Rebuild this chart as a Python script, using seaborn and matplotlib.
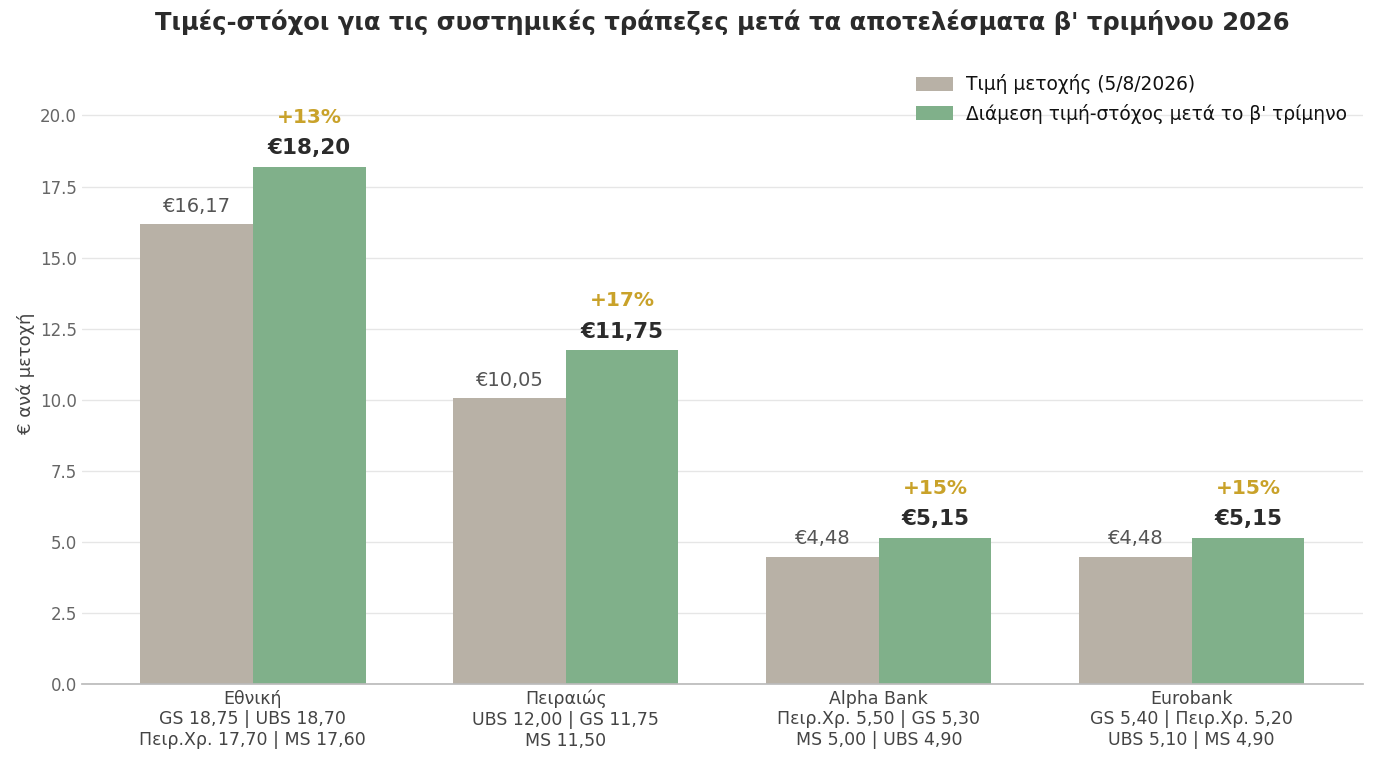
import numpy as np
import pandas as pd
import seaborn as sns
import matplotlib.pyplot as plt

banks = ["Εθνική", "Πειραιώς", "Alpha Bank", "Eurobank"]
brokers = ["GS 18,75 | UBS 18,70\nΠειρ.Χρ. 17,70 | MS 17,60",
           "UBS 12,00 | GS 11,75\nMS 11,50",
           "Πειρ.Χρ. 5,50 | GS 5,30\nMS 5,00 | UBS 4,90",
           "GS 5,40 | Πειρ.Χρ. 5,20\nUBS 5,10 | MS 4,90"]
price = [16.17, 10.05, 4.48, 4.48]
target = [18.20, 11.75, 5.15, 5.15]
upside = ["+13%", "+17%", "+15%", "+15%"]

lbl_price = "Τιμή μετοχής (5/8/2026)"
lbl_target = "Διάμεση τιμή-στόχος μετά το β' τρίμηνο"

df = pd.DataFrame({
    "bank": banks * 2,
    "value": price + target,
    "series": [lbl_price] * 4 + [lbl_target] * 4,
})

sns.set_theme(style="whitegrid", font="DejaVu Sans")
plt.rcParams['font.family'] = 'sans-serif'
plt.rcParams['font.sans-serif'] = ['DejaVu Sans']

fig = plt.figure(figsize=(13.75, 7.61), dpi=100)
ax = fig.add_axes([0.0596, 0.101, 0.9314, 0.816])

sns.barplot(data=df, x="bank", y="value", hue="series", ax=ax,
            palette=["#b8b1a6", "#80b08a"], width=0.72, saturation=1,
            linewidth=0)

ax.set_xlim(-0.546, 3.546)
ax.set_ylim(0, 21.84)
ax.set_yticks(np.arange(0, 20.1, 2.5))
ax.yaxis.set_major_formatter(plt.FuncFormatter(lambda v, p: f"{v:.1f}"))
ax.grid(axis="x", visible=False)
ax.grid(axis="y", color="#e6e6e6", linewidth=1)
for s in ["left", "right", "top"]:
    ax.spines[s].set_visible(False)
ax.spines["bottom"].set_color("#bbbbbb")
ax.tick_params(axis="y", labelsize=12, labelcolor="#666666", length=0)
ax.tick_params(axis="x", labelsize=12.5, labelcolor="#444444", length=0, pad=4)

ax.set_xticks(range(len(banks)))
ax.set_xticklabels([f"{b}\n{r}" for b, r in zip(banks, brokers)])
ax.set_xlabel("")
ax.set_ylabel("€ ανά μετοχή", fontsize=13, color="#444444")

def eur(v):
    return "€" + f"{v:.2f}".replace(".", ",")

for i in range(len(banks)):
    ax.text(i - 0.18, price[i] + 0.3, eur(price[i]), ha="center", va="bottom",
            fontsize=14, color="#555555")
    ax.text(i + 0.18, target[i] + 0.3, eur(target[i]), ha="center", va="bottom",
            fontsize=15.5, fontweight="bold", color="#2b2b2b")
    ax.text(i + 0.18, target[i] + 1.4, upside[i], ha="center", va="bottom",
            fontsize=14.5, fontweight="bold", color="#c9a22a")

leg = ax.legend(loc="upper right", bbox_to_anchor=(1.001, 1.009), frameon=False,
                fontsize=13.4, handlelength=2.0, handleheight=0.75,
                handletextpad=0.7, labelspacing=0.5)
for t in leg.get_texts():
    t.set_color("#111111")

ax.set_title("Τιμές-στόχοι για τις συστημικές τράπεζες μετά τα αποτελέσματα β' τριμήνου 2026",
             fontsize=17.5, fontweight="bold", color="#2b2b2b", pad=24)

fig.savefig("out.png", dpi=100)
